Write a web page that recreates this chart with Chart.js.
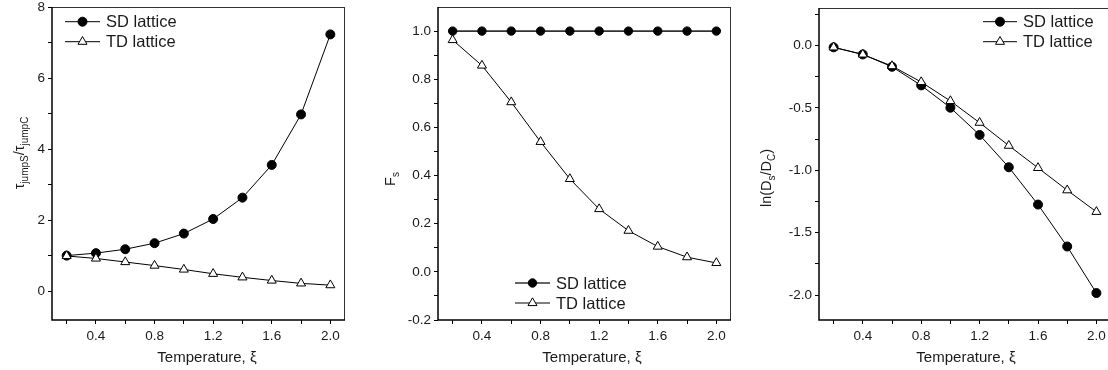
<!DOCTYPE html>
<html><head><meta charset="utf-8">
<script src="https://cdn.jsdelivr.net/npm/chart.js@4/dist/chart.umd.min.js"></script>
<style>
html,body{margin:0;padding:0;background:#fff;overflow:hidden;width:1108px;height:370px;}
canvas{position:absolute;top:0;}
</style></head><body>
<canvas id="c1" width="370" height="370" style="left:0px"></canvas>
<canvas id="c2" width="368" height="370" style="left:370px"></canvas>
<canvas id="c3" width="400" height="370" style="left:738px"></canvas>
<script>
// ---- data ----
const temperature = [0.2, 0.4, 0.6, 0.8, 1.0, 1.2, 1.4, 1.6, 1.8, 2.0];
const seriesNames = ['SD lattice', 'TD lattice'];
const tauSD = [1.01, 1.08, 1.19, 1.36, 1.63, 2.04, 2.64, 3.56, 4.98, 7.23];
const tauTD = [1.00, 0.93, 0.83, 0.73, 0.62, 0.50, 0.40, 0.31, 0.23, 0.18];
const fsSD = [1.0, 1.0, 1.0, 1.0, 1.0, 1.0, 1.0, 1.0, 1.0, 1.0];
const fsTD = [0.963, 0.857, 0.705, 0.540, 0.386, 0.261, 0.171, 0.105, 0.061, 0.037];
const lnSD = [-0.015, -0.072, -0.171, -0.320, -0.499, -0.717, -0.976, -1.275, -1.611, -1.984];
const lnTD = [-0.015, -0.072, -0.165, -0.293, -0.445, -0.619, -0.803, -0.981, -1.160, -1.333];

// ---- ticks ----
const xTickValues = [0.2, 0.4, 0.6, 0.8, 1.0, 1.2, 1.4, 1.6, 1.8, 2.0];
const xTickLabels = ['0.4', '0.8', '1.2', '1.6', '2.0'];
const y1TickValues = [0, 1, 2, 3, 4, 5, 6, 7, 8];
const y1TickLabels = ['0', '2', '4', '6', '8'];
const y2TickValues = [-0.2, -0.1, 0.0, 0.1, 0.2, 0.3, 0.4, 0.5, 0.6, 0.7, 0.8, 0.9, 1.0];
const y2TickLabels = ['-0.2', '0.0', '0.2', '0.4', '0.6', '0.8', '1.0'];
const y3TickValues = [-2.0, -1.75, -1.5, -1.25, -1.0, -0.75, -0.5, -0.25, 0.0, 0.25];
const y3TickLabels = ['-2.0', '-1.5', '-1.0', '-0.5', '0.0'];

const FONT = '"Liberation Sans", Arial, sans-serif';
const INK = '#1a1a1a';

function pts(ys) { return temperature.map((x, i) => ({ x: x, y: ys[i] })); }

function makeTicks(values) {
  return function (scale) { scale.ticks = values.map(v => ({ value: v })); };
}
function labelCb(labels, fmt) {
  return function (v) { const s = fmt(v); return labels.includes(s) ? s : ''; };
}
const fix1 = v => (Math.abs(v) < 1e-9 ? 0 : v).toFixed(1);
const int0 = v => String(Math.round(v));

const panelPlugin = {
  id: 'panel',
  afterDraw(chart) {
    const o = chart.options.plugins.panel;
    const ctx = chart.ctx;
    const a = chart.chartArea;
    ctx.save();
    // frame
    ctx.strokeStyle = '#333';
    ctx.lineWidth = 1;
    ctx.beginPath();
    ctx.moveTo(a.left, a.top + 0.5); ctx.lineTo(a.right, a.top + 0.5);
    ctx.moveTo(a.right - 0.5, a.top); ctx.lineTo(a.right - 0.5, a.bottom);
    ctx.stroke();
    ctx.strokeStyle = '#000';
    ctx.lineWidth = 1.5;
    ctx.beginPath();
    ctx.moveTo(a.left, a.top); ctx.lineTo(a.left, a.bottom); ctx.lineTo(a.right, a.bottom);
    ctx.stroke();

    // x title
    ctx.fillStyle = INK;
    ctx.font = '15px ' + FONT;
    ctx.textAlign = 'center';
    ctx.textBaseline = 'alphabetic';
    ctx.fillText(o.xTitle, o.xTitleX, o.xTitleY);

    // y title with subscripts (rotated)
    const parts = o.yTitle;
    let total = 0;
    parts.forEach(p => {
      ctx.font = (p.sub ? '10px ' : '14.5px ') + FONT;
      p.w = ctx.measureText(p.t).width;
      total += p.w;
    });
    ctx.translate(o.yTitleX, o.yTitleY);
    ctx.rotate(-Math.PI / 2);
    ctx.textAlign = 'left';
    let cx = -total / 2;
    parts.forEach(p => {
      ctx.font = (p.sub ? '10px ' : '14.5px ') + FONT;
      ctx.fillText(p.t, cx, p.sub ? 3.5 : 0);
      cx += p.w;
    });
    ctx.setTransform(1, 0, 0, 1, 0, 0);

    // legend
    const L = o.legend;
    chart.data.datasets.forEach((ds, i) => {
      const y = L.y + i * L.dy;
      ctx.strokeStyle = ds.borderColor;
      ctx.lineWidth = ds.borderWidth;
      ctx.beginPath();
      ctx.moveTo(L.x, y); ctx.lineTo(L.x + L.len, y);
      ctx.stroke();
      const mx = L.x + L.len / 2;
      ctx.lineWidth = 1;
      ctx.strokeStyle = '#000';
      ctx.fillStyle = ds.pointBackgroundColor;
      ctx.beginPath();
      if (ds.pointStyle === 'circle') {
        ctx.arc(mx, y, ds.pointRadius, 0, Math.PI * 2);
      } else {
        const r = ds.pointRadius;
        ctx.moveTo(mx, y - r);
        ctx.lineTo(mx + r * Math.sin(2 * Math.PI / 3), y - r * Math.cos(2 * Math.PI / 3));
        ctx.lineTo(mx + r * Math.sin(4 * Math.PI / 3), y - r * Math.cos(4 * Math.PI / 3));
        ctx.closePath();
      }
      ctx.fill(); ctx.stroke();
      ctx.fillStyle = INK;
      ctx.font = '16.5px ' + FONT;
      ctx.textAlign = 'left';
      ctx.textBaseline = 'middle';
      ctx.fillText(ds.label, L.x + L.len + 6, y + 1);
    });
    ctx.restore();
  }
};

function makeChart(id, cfg) {
  const sdStyle = {
    label: seriesNames[0], data: pts(cfg.sd), borderColor: cfg.sdLine || '#000', borderWidth: cfg.sdWidth || 1,
    pointStyle: 'circle', pointRadius: cfg.circR, pointHoverRadius: cfg.circR,
    pointBackgroundColor: '#000', pointBorderColor: '#000', pointBorderWidth: 1, order: 1, tension: 0, fill: false
  };
  const tdStyle = {
    label: seriesNames[1], data: pts(cfg.td), borderColor: '#000', borderWidth: 1,
    pointStyle: 'triangle', pointRadius: 5.2, pointHoverRadius: 5.2,
    pointBackgroundColor: '#fff', pointBorderColor: '#000', pointBorderWidth: 1, order: 0, tension: 0, fill: false
  };
  const tickFont = { family: FONT, size: 13.5 };
  return new Chart(document.getElementById(id), {
    type: 'line',
    data: { datasets: [sdStyle, tdStyle] },
    plugins: [panelPlugin],
    options: {
      responsive: false, animation: false,
      layout: { padding: { left: 0, top: cfg.top, right: cfg.right, bottom: 0 } },
      plugins: {
        legend: { display: false }, tooltip: { enabled: false },
        panel: cfg.panel
      },
      scales: {
        x: {
          type: 'linear', min: 0.1, max: 2.1,
          afterBuildTicks: makeTicks(xTickValues),
          afterFit: s => { s.height = 50; s.paddingLeft = 0; s.paddingRight = 0; },
          grid: { display: true, drawOnChartArea: false, drawTicks: true, tickLength: 4, tickColor: '#000', lineWidth: 1 },
          border: { display: false },
          ticks: { autoSkip: false, maxRotation: 0, padding: 4, color: INK, font: tickFont,
                   callback: labelCb(xTickLabels, fix1) }
        },
        y: {
          type: 'linear', min: cfg.ymin, max: cfg.ymax,
          afterBuildTicks: makeTicks(cfg.yTicks),
          afterFit: s => { s.width = cfg.left; s.paddingTop = 0; s.paddingBottom = 0; },
          grid: { display: true, drawOnChartArea: false, drawTicks: true, tickLength: 4, tickColor: '#000', lineWidth: 1 },
          border: { display: false },
          ticks: { autoSkip: false, padding: 3, color: INK, font: tickFont,
                   callback: labelCb(cfg.yLabels, cfg.fmt) }
        }
      }
    }
  });
}

makeChart('c1', {
  sd: tauSD, td: tauTD, circR: 4.5, ymin: -0.8, ymax: 8,
  yTicks: y1TickValues, yLabels: y1TickLabels, fmt: int0,
  left: 52, right: 25, top: 7,
  panel: {
    xTitle: 'Temperature, ξ', xTitleX: 207, xTitleY: 362,
    yTitle: [{ t: 'τ' }, { t: 'jumpS', sub: true }, { t: '/' }, { t: 'τ' }, { t: 'jumpC', sub: true }],
    yTitleX: 24, yTitleY: 153,
    legend: { x: 65, y: 21.7, dy: 20, len: 35 }
  }
});
makeChart('c2', {
  sd: fsSD, td: fsTD, circR: 4.2, sdLine: '#333', sdWidth: 1.6, ymin: -0.2, ymax: 1.1,
  yTicks: y2TickValues, yLabels: y2TickLabels, fmt: fix1,
  left: 68, right: 7, top: 7,
  panel: {
    xTitle: 'Temperature, ξ', xTitleX: 222, xTitleY: 362,
    yTitle: [{ t: 'F' }, { t: 's', sub: true }],
    yTitleX: 25, yTitleY: 179,
    legend: { x: 145, y: 283, dy: 20, len: 35 }
  }
});
makeChart('c3', {
  sd: lnSD, td: lnTD, circR: 4.5, ymin: -2.2, ymax: 0.3,
  yTicks: y3TickValues, yLabels: y3TickLabels, fmt: fix1,
  left: 81, right: 27, top: 8,
  panel: {
    xTitle: 'Temperature, ξ', xTitleX: 228, xTitleY: 362,
    yTitle: [{ t: 'ln(D' }, { t: 's', sub: true }, { t: '/D' }, { t: 'C', sub: true }, { t: ')' }],
    yTitleX: 33, yTitleY: 178,
    legend: { x: 245, y: 21.7, dy: 20, len: 34 }
  }
});
</script>
</body></html>
